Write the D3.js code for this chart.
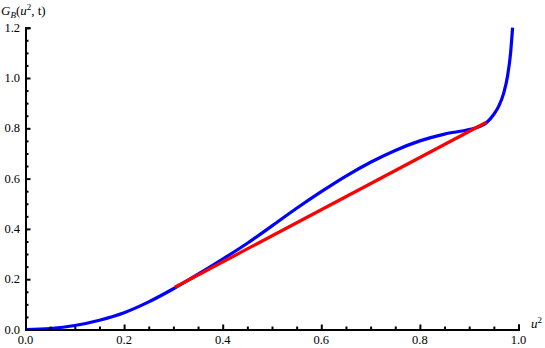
<!DOCTYPE html>
<html>
<head>
<meta charset="utf-8">
<script src="https://cdn.jsdelivr.net/npm/d3@7"></script>
<style>
  body { margin: 0; background: #fff; }
  svg text { font-family: "Liberation Serif", "DejaVu Serif", serif !important; }
</style>
</head>
<body>
<div id="chart"></div>
<script>
"use strict";

// blue curve G_B(u^2, t)
var blue_u = [0, 0.05, 0.1, 0.15, 0.2, 0.25, 0.3, 0.35, 0.4, 0.45, 0.5, 0.55, 0.6, 0.65,
              0.7, 0.75, 0.8, 0.85, 0.9, 0.92, 0.935, 0.95, 0.96, 0.97, 0.978, 0.984, 0.988];
var blue_g = [0, 0.004, 0.016, 0.037, 0.067, 0.11, 0.162, 0.22, 0.28, 0.343, 0.412, 0.482, 0.548, 0.61,
              0.665, 0.712, 0.75, 0.777, 0.795, 0.806, 0.822, 0.856, 0.888, 0.94, 1.01, 1.1, 1.2];

// red straight segment
var red_u = [0.303, 0.935];
var red_g = [0.168, 0.824];

var x_major = [0, 0.2, 0.4, 0.6, 0.8, 1.0];
var y_major = [0, 0.2, 0.4, 0.6, 0.8, 1.0, 1.2];

var width = 545, height = 348;

var svg = d3.select("#chart").append("svg")
  .attr("width", width)
  .attr("height", height);

var x = d3.scaleLinear().domain([0, 1]).range([25.5, 518.5]);
var y = d3.scaleLinear().domain([0, 1.2]).range([329.5, 27.7]);

var line = d3.line()
  .x(function(d) { return x(d[0]); })
  .y(function(d) { return y(d[1]); })
  .curve(d3.curveMonotoneX);

var blue = blue_u.map(function(u, i) { return [u, blue_g[i]]; });
var red = red_u.map(function(u, i) { return [u, red_g[i]]; });

svg.append("path")
  .attr("d", line(blue))
  .attr("fill", "none")
  .attr("stroke", "#0000ff")
  .attr("stroke-width", 3.2);

svg.append("path")
  .attr("d", line(red))
  .attr("fill", "none")
  .attr("stroke", "#ff0000")
  .attr("stroke-width", 3.2);

function minor(max) {
  return d3.range(0, max + 0.0001, 0.05).filter(function(v) {
    return Math.abs(v * 5 - Math.round(v * 5)) > 1e-6;
  });
}

// x axis (ticks point up, inside the plot)
var gx = svg.append("g")
  .attr("transform", "translate(0," + y(0) + ")")
  .call(d3.axisTop(x).tickValues(x_major).tickSize(5).tickFormat(""));
gx.append("g").call(d3.axisTop(x).tickValues(minor(1.0)).tickSize(3).tickFormat(""));
gx.selectAll("path.domain").attr("stroke-width", 2).attr("stroke", "#000");
gx.selectAll(".tick line").attr("stroke-width", 2).attr("stroke", "#000");

x_major.forEach(function(v) {
  svg.append("text")
    .attr("x", x(v))
    .attr("y", 344)
    .attr("text-anchor", "middle")
    .style("font-size", "12.5px")
    .text(d3.format(".1f")(v));
});

// y axis (ticks point right)
var gy = svg.append("g")
  .attr("transform", "translate(" + x(0) + ",0)")
  .call(d3.axisRight(y).tickValues(y_major).tickSize(5).tickFormat(""));
gy.append("g").call(d3.axisRight(y).tickValues(minor(1.2)).tickSize(3).tickFormat(""));
gy.selectAll("path.domain").attr("stroke-width", 2).attr("stroke", "#000");
gy.selectAll(".tick line").attr("stroke-width", 2).attr("stroke", "#000");

y_major.forEach(function(v) {
  svg.append("text")
    .attr("x", 20)
    .attr("y", y(v) + 4)
    .attr("text-anchor", "end")
    .style("font-size", "12.5px")
    .text(d3.format(".1f")(v));
});

// axis titles
var ty = svg.append("text")
  .attr("x", 1)
  .attr("y", 15)
  .style("font-size", "13px");
ty.append("tspan").style("font-style", "italic").text("G");
ty.append("tspan").style("font-style", "italic").style("font-size", "9px").attr("dy", 3).text("B");
ty.append("tspan").attr("dy", -3).text("(");
ty.append("tspan").style("font-style", "italic").text("u");
ty.append("tspan").style("font-size", "9px").attr("dy", -5).text("2");
ty.append("tspan").attr("dy", 5).text(", t)");

var tx = svg.append("text")
  .attr("x", 531)
  .attr("y", 328)
  .style("font-size", "13px");
tx.append("tspan").style("font-style", "italic").text("u");
tx.append("tspan").style("font-size", "9px").attr("dy", -5).text("2");
</script>
</body>
</html>
